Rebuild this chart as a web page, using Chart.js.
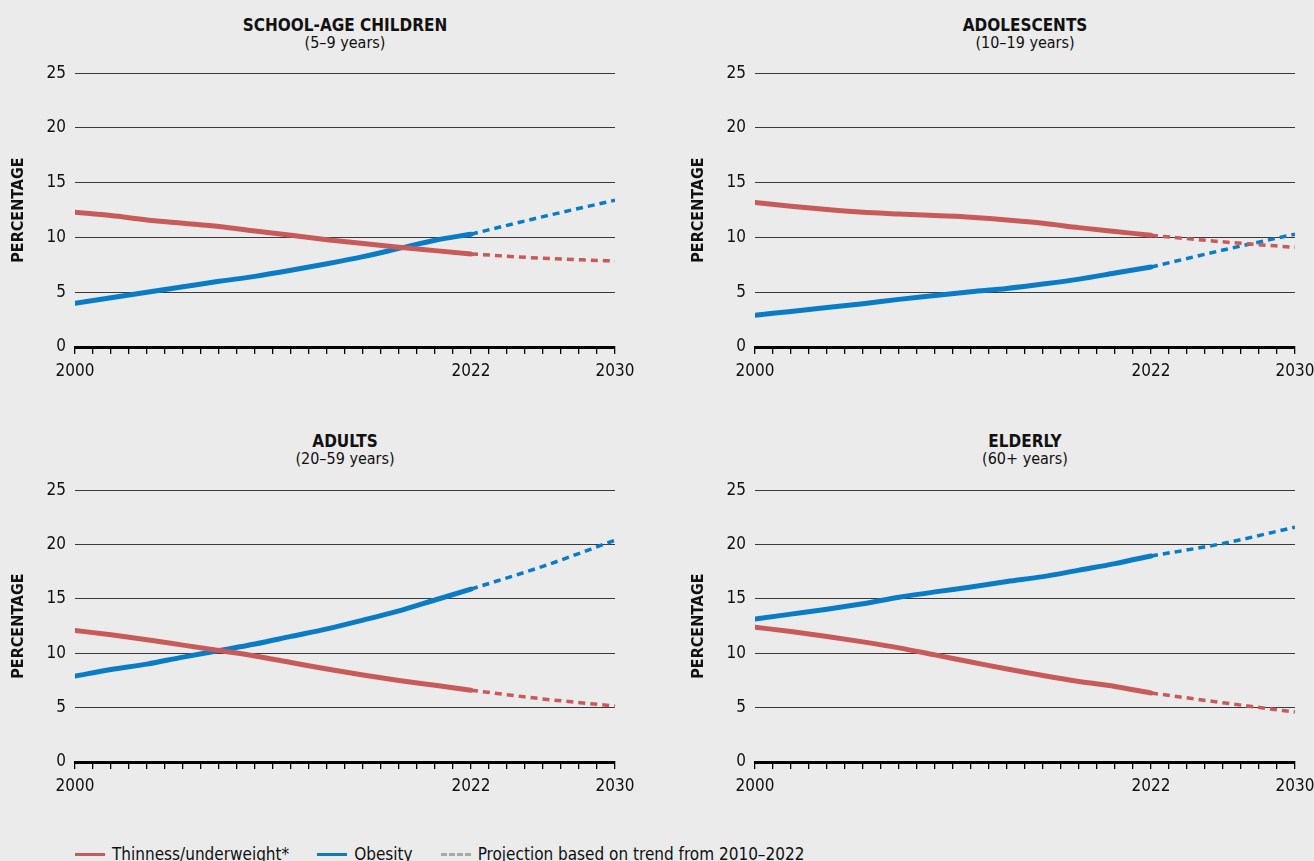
<!DOCTYPE html>
<html>
<head>
<meta charset="utf-8">
<script src="https://cdn.jsdelivr.net/npm/chart.js@4.4.1/dist/chart.umd.min.js"></script>
<style>
  body { margin: 0; background: #ebebeb; width: 1314px; height: 861px; overflow: hidden; position: relative;
         font-family: "DejaVu Sans Condensed", "DejaVu Sans", sans-serif; color: #111; }
  canvas { position: absolute; }
  .ttl { position: absolute; width: 400px; text-align: center; line-height: 17px; }
  .ttl b { font-size: 17px; display: block; margin-top: 1px; }
  .ttl span { font-size: 16px; }
  .legend { position: absolute; top: 844px; left: 75px; font-size: 17px; display: flex; align-items: center; }
  .legend .sw { display: inline-block; width: 30px; height: 0; margin-right: 7px; }
  .legend .it { display: flex; align-items: center; margin-right: 28px; }
</style>
</head>
<body>
<div class="ttl" style="left:145px;top:16px"><b>SCHOOL-AGE CHILDREN</b><span>(5–9 years)</span></div>
<div class="ttl" style="left:825px;top:16px"><b>ADOLESCENTS</b><span>(10–19 years)</span></div>
<div class="ttl" style="left:145px;top:432px"><b>ADULTS</b><span>(20–59 years)</span></div>
<div class="ttl" style="left:825px;top:432px"><b>ELDERLY</b><span>(60+ years)</span></div>

<canvas id="c1" width="650" height="328" style="left:0;top:54px"></canvas>
<canvas id="c2" width="650" height="328" style="left:680px;top:54px"></canvas>
<canvas id="c3" width="650" height="326" style="left:0;top:471px"></canvas>
<canvas id="c4" width="650" height="326" style="left:680px;top:471px"></canvas>

<div class="legend">
  <div class="it"><span class="sw" style="border-top:3px solid #c85a5a"></span>Thinness/underweight*</div>
  <div class="it"><span class="sw" style="border-top:3px solid #0a7cc6"></span>Obesity</div>
  <div class="it"><span class="sw" style="border-top:3px dashed #a8a8a8"></span>Projection based on trend from 2010–2022</div>
</div>

<script>
const histYears = [2000, 2002, 2004, 2006, 2008, 2010, 2012, 2014, 2016, 2018, 2020, 2022];
const projYears = [2022, 2026, 2030];
const labelYears = [2000, 2022, 2030];

const childThin = [12.3, 12.0, 11.6, 11.3, 11.0, 10.6, 10.2, 9.8, 9.45, 9.1, 8.8, 8.5];
const childObese = [4.0, 4.5, 5.0, 5.5, 6.0, 6.45, 7.0, 7.6, 8.25, 9.0, 9.75, 10.3];
const childThinProj = [8.5, 8.1, 7.85];
const childObeseProj = [10.3, 11.9, 13.4];

const adolThin = [13.2, 12.85, 12.55, 12.3, 12.15, 12.0, 11.85, 11.6, 11.3, 10.9, 10.55, 10.2];
const adolObese = [2.9, 3.25, 3.6, 3.95, 4.35, 4.7, 5.05, 5.35, 5.75, 6.2, 6.75, 7.3];
const adolThinProj = [10.2, 9.6, 9.1];
const adolObeseProj = [7.3, 8.85, 10.3];

const adultThin = [12.1, 11.7, 11.25, 10.75, 10.25, 9.75, 9.15, 8.55, 8.0, 7.5, 7.05, 6.6];
const adultObese = [7.9, 8.5, 9.0, 9.65, 10.25, 10.85, 11.55, 12.25, 13.05, 13.9, 14.9, 15.9];
const adultThinProj = [6.6, 5.8, 5.15];
const adultObeseProj = [15.9, 18.0, 20.4];

const elderThin = [12.4, 12.0, 11.55, 11.05, 10.5, 9.85, 9.2, 8.55, 7.95, 7.4, 6.95, 6.35];
const elderObese = [13.15, 13.6, 14.05, 14.55, 15.15, 15.65, 16.1, 16.6, 17.05, 17.65, 18.25, 18.95];
const elderThinProj = [6.35, 5.45, 4.6];
const elderObeseProj = [18.95, 20.1, 21.6];

const red = "#c85a5a";
const blue = "#0a7cc6";
const font = "'DejaVu Sans Condensed', 'DejaVu Sans', sans-serif";

function pts(xs, ys) {
  return xs.map((x, i) => ({ x: x, y: ys[i] }));
}

function line(xs, ys, color, dashed) {
  return {
    data: pts(xs, ys),
    borderColor: color,
    borderWidth: dashed ? 3.5 : 5,
    borderDash: dashed ? [7, 5] : [],
    borderCapStyle: dashed ? "butt" : "round",
    pointRadius: 0,
    tension: 0.4,
    cubicInterpolationMode: "monotone"
  };
}

function makePanel(id, thin, obese, thinProj, obeseProj) {
  new Chart(document.getElementById(id), {
    type: "line",
    data: {
      datasets: [
        line(histYears, thin, red, false),
        line(projYears, thinProj, red, true),
        line(histYears, obese, blue, false),
        line(projYears, obeseProj, blue, true)
      ]
    },
    options: {
      responsive: false,
      animation: false,
      devicePixelRatio: 1,
      layout: { padding: { top: 7, right: 35, left: 0, bottom: 0 } },
      plugins: { legend: { display: false }, tooltip: { enabled: false } },
      scales: {
        x: {
          type: "linear",
          min: 2000,
          max: 2030,
          afterFit: s => { s.height = 35; },
          border: { display: true, color: "#000", width: 3 },
          grid: { drawOnChartArea: false, drawTicks: true, tickLength: 7, color: "#000", lineWidth: 1.3 },
          ticks: {
            stepSize: 1,
            autoSkip: false,
            maxRotation: 0,
            padding: 7,
            color: "#111",
            font: { family: font, size: 17 },
            callback: v => labelYears.includes(v) ? String(v) : ""
          }
        },
        y: {
          min: 0,
          max: 25,
          afterFit: s => { s.width = 75; },
          border: { display: false },
          grid: {
            drawTicks: false,
            color: c => c.tick && c.tick.value === 0 ? "#000" : "#3a3a3a",
            lineWidth: c => c.tick && c.tick.value === 0 ? 3 : 1
          },
          ticks: { stepSize: 5, padding: 9, color: "#111", font: { family: font, size: 17 } },
          title: {
            display: true,
            text: "PERCENTAGE",
            color: "#111",
            padding: { top: 9, bottom: 0 },
            font: { family: font, size: 16, weight: "bold" }
          }
        }
      }
    }
  });
}

makePanel("c1", childThin, childObese, childThinProj, childObeseProj);
makePanel("c2", adolThin, adolObese, adolThinProj, adolObeseProj);
makePanel("c3", adultThin, adultObese, adultThinProj, adultObeseProj);
makePanel("c4", elderThin, elderObese, elderThinProj, elderObeseProj);
</script>
</body>
</html>
